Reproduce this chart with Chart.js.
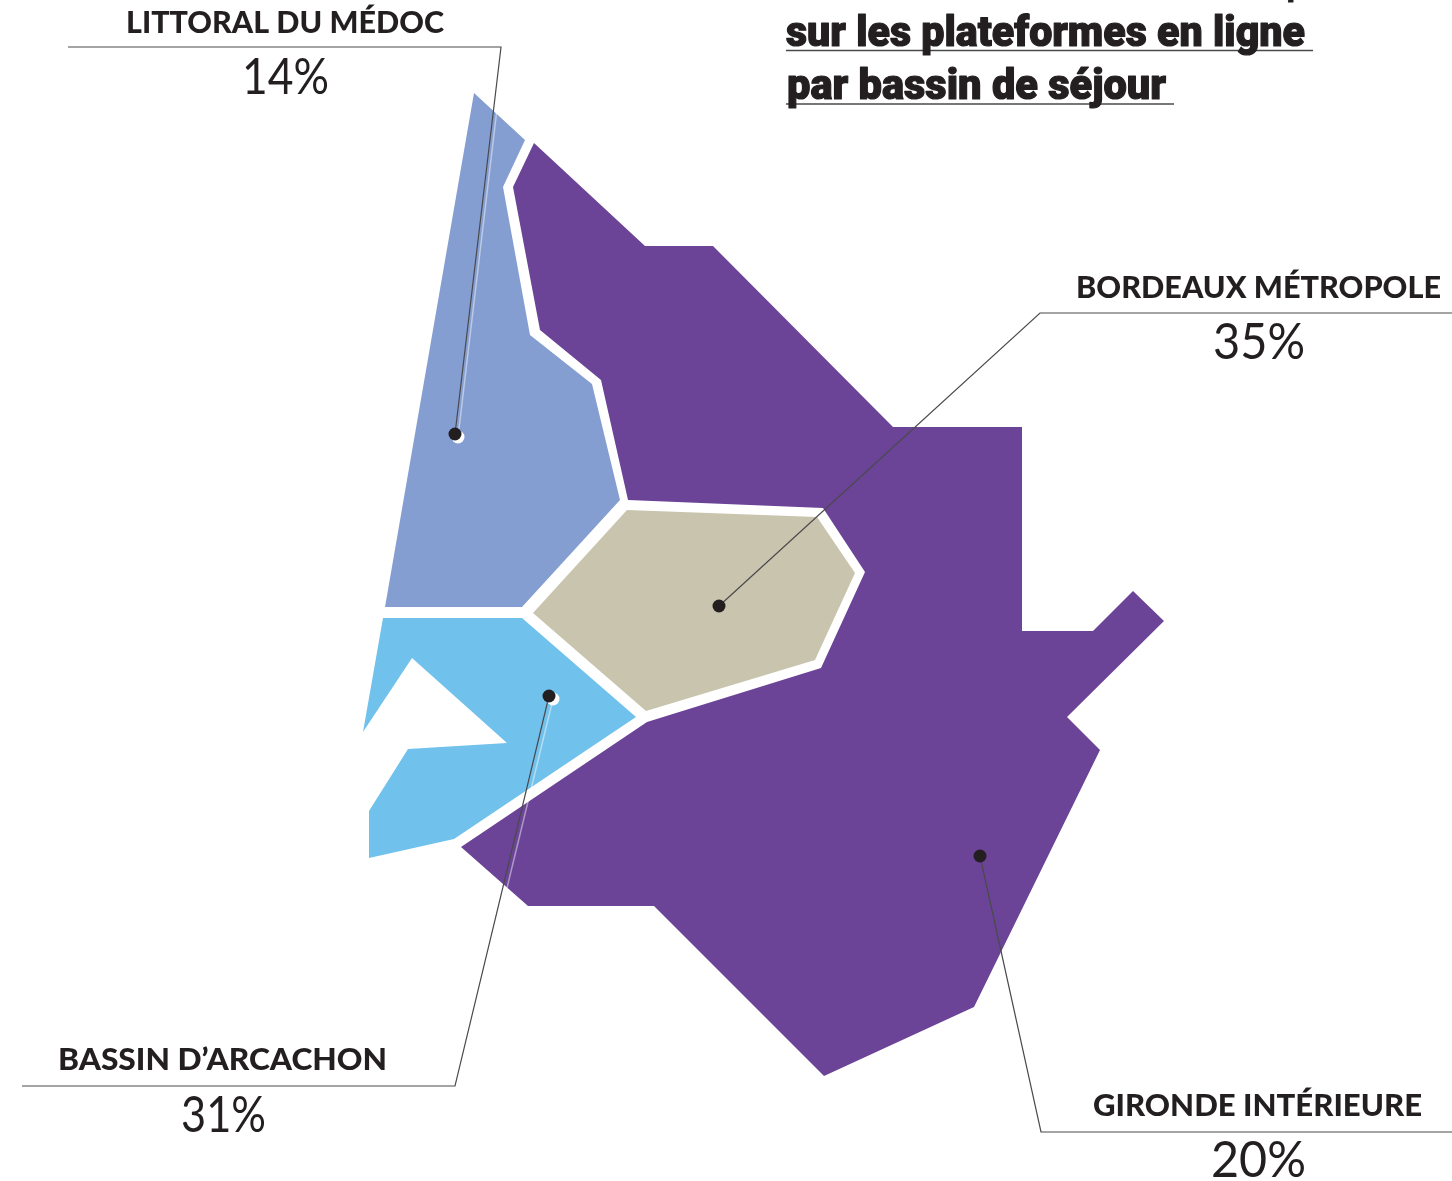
<!DOCTYPE html>
<html lang="fr">
<head>
<meta charset="utf-8">
<title>Réservations sur les plateformes en ligne par bassin de séjour</title>
<script src="https://cdn.jsdelivr.net/npm/chart.js@4"></script>
<style>
  html, body { margin: 0; padding: 0; background: #fff; }
  canvas { display: block; }
</style>
</head>
<body>
<canvas id="map" width="1452" height="1181"></canvas>
<script>
// valeurs
const basins = ['LITTORAL DU MÉDOC', 'BORDEAUX MÉTROPOLE', "BASSIN D’ARCACHON", 'GIRONDE INTÉRIEURE'];
const shares = [14, 35, 31, 20];
const titleLines = ['sur les plateformes en ligne', 'par bassin de séjour'];

// contours des bassins, [x, y] dans le repère de la carte
const littoral = [[474,93],[525,140],[503,187],[530,335],[592,384],[620,500],[522,607],[385,607]];
const metropole = [[627,510],[817,517],[855,573],[815,660],[646,711],[533,613]];
const arcachon = [[383,618],[522,618],[636,717],[454,839],[369,858],[369,811],[408,749],[507,743],[412,658],[363,732]];
const interieur = [[534,143],[645,246],[713,246],[893,427],[1022,427],[1022,631],[1093,631],[1133,591],[1164,621],
  [1067,717],[1100,750],[974,1007],[824,1076],[654,906],[528,906],[461,847],[647,722],[821,668],[865,572],[823,508],
  [628,500],[601,380],[540,330],[513,187]];

// filets : du bord de la carte jusqu'au point du bassin
const leaderLittoral = [[68,47],[501,47],[455,434]];
const leaderMetropole = [[1452,313],[1040,313],[719,606]];
const leaderArcachon = [[22,1086],[455,1086],[549,696]];
const leaderInterieur = [[1452,1132],[1041,1132],[980,856]];
const ghostLittoral = [[504,50],[458,437]];
const ghostArcachon = [[458,1089],[553,699]];
const ghostDots = [[458,437],[553,699]];
const titleRules = [[[786,50.5],[1313,50.5]], [[786,104],[1174,104]]];

const ink = '#231f20';
const toPts = arr => arr.map(p => ({ x: p[0], y: p[1] }));
const area = (pts, color) => ({
  data: toPts(pts), showLine: true, fill: 'shape', backgroundColor: color,
  borderWidth: 0, borderColor: color, pointRadius: 0, tension: 0
});
const stroke = (pts, color, width) => ({
  data: toPts(pts), showLine: true, fill: false, borderColor: color,
  borderWidth: width, pointRadius: 0, tension: 0
});

// texte posé sur la carte, étiré à la largeur relevée
const textLayer = {
  id: 'textLayer',
  afterDatasetsDraw(chart) {
    const { ctx, scales: { x, y } } = chart;
    const put = (txt, left, right, base, font, bold) => {
      ctx.save();
      ctx.font = font;
      ctx.fillStyle = ink;
      ctx.strokeStyle = ink;
      ctx.lineJoin = 'round';
      ctx.lineWidth = bold || 0;
      ctx.textAlign = 'left';
      ctx.textBaseline = 'alphabetic';
      const w = ctx.measureText(txt).width;
      ctx.translate(x.getPixelForValue(left), y.getPixelForValue(base));
      ctx.scale((right - left) / w, 1);
      if (bold) ctx.strokeText(txt, 0, 0);
      ctx.fillText(txt, 0, 0);
      ctx.restore();
    };
    const labelFont = '900 30px Lato';
    const valueFont = '400 50px Lato';
    put(basins[0], 126, 444, 33, labelFont);
    put(shares[0] + '%', 242, 329, 94, valueFont);
    put(basins[1], 1076, 1441, 298, labelFont);
    put(shares[1] + '%', 1213, 1305, 359, valueFont);
    put(basins[2], 58, 387, 1070, labelFont);
    put(shares[2] + '%', 181, 266, 1132, valueFont);
    put(basins[3], 1093, 1422, 1116, labelFont);
    put(shares[3] + '%', 1211, 1306, 1177, valueFont);

    const titleFont = '900 43px Roboto';
    put('p', 1287, 1303, -7, titleFont, 1.2); // ligne coupée en haut de l'image
    put(titleLines[0], 786, 1305, 46, titleFont, 1.2);
    put(titleLines[1], 787, 1166, 99, titleFont, 1.2);
  }
};

new Chart(document.getElementById('map'), {
  type: 'scatter',
  data: {
    datasets: [
      { data: toPts([leaderLittoral[2], leaderMetropole[2], leaderArcachon[2], leaderInterieur[2]]),
        backgroundColor: ink, borderWidth: 0, pointRadius: 6.5, showLine: false },
      { data: toPts(ghostDots), backgroundColor: '#fff', borderWidth: 0, pointRadius: 6.5, showLine: false },
      stroke(leaderLittoral, '#4a4a4c', 1.2),
      stroke(leaderMetropole, '#4a4a4c', 1.2),
      stroke(leaderArcachon, '#4a4a4c', 1.2),
      stroke(leaderInterieur, '#4a4a4c', 1.2),
      stroke(ghostLittoral, 'rgba(255,255,255,0.45)', 1.5),
      stroke(ghostArcachon, 'rgba(255,255,255,0.45)', 1.5),
      stroke(titleRules[0], '#4a4a4c', 1.4),
      stroke(titleRules[1], '#4a4a4c', 1.4),
      area(littoral, '#859ed1'),
      area(metropole, '#c8c4ad'),
      area(arcachon, '#70c1ec'),
      area(interieur, '#6b4397')
    ]
  },
  options: {
    responsive: false,
    animation: false,
    events: [],
    layout: { padding: 0, autoPadding: false },
    clip: false,
    scales: {
      x: { type: 'linear', min: 0, max: 1452, display: false },
      y: { type: 'linear', min: 0, max: 1181, reverse: true, display: false }
    },
    plugins: { legend: { display: false }, tooltip: { enabled: false } }
  },
  plugins: [textLayer]
});
</script>
</body>
</html>
